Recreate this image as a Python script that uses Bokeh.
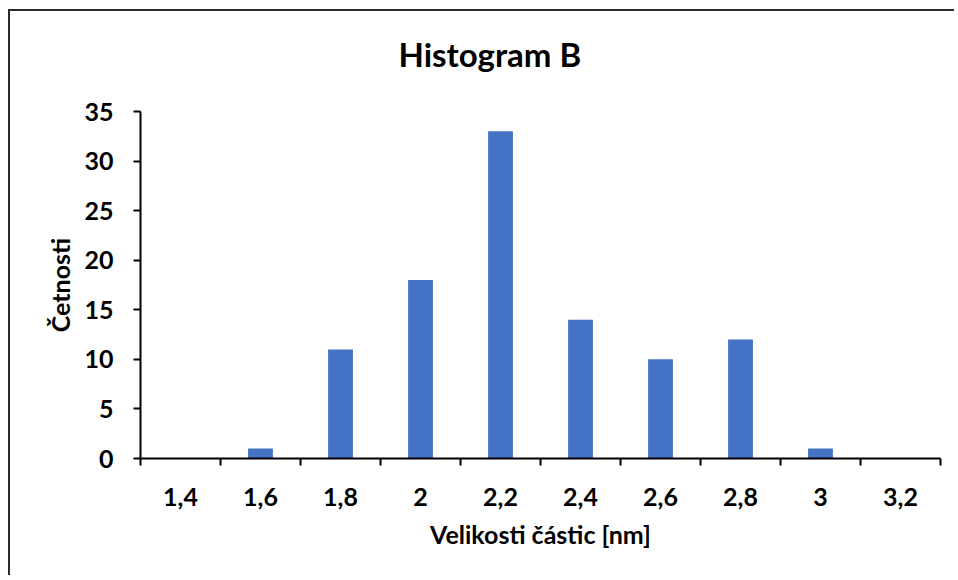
from bokeh.plotting import figure
from bokeh.models import Range1d, FixedTicker, LinearAxis
from bokeh.embed import file_html
from bokeh.resources import INLINE

# data
size_labels = ["1,4", "1,6", "1,8", "2", "2,2", "2,4", "2,6", "2,8", "3", "3,2"]
counts = [0, 1, 11, 18, 33, 14, 10, 12, 1, 0]
y_ticks = [0, 5, 10, 15, 20, 25, 30, 35]

FONT = "Lato"
n = len(size_labels)
centers = [i + 0.5 for i in range(n)]

p = figure(width=946, height=566, output_backend="svg", toolbar_location=None,
           x_range=Range1d(0, n), y_range=Range1d(0, 35),
           x_axis_location=None, y_axis_location=None,
           min_border_left=130, min_border_right=16, min_border_top=100, min_border_bottom=119,
           title="Histogram B")
p.styles = {"border-left": "2px solid #2b2b2b", "border-top": "2px solid #2b2b2b",
            "margin-left": "8px", "margin-top": "9px"}

p.title.text_font = FONT
p.title.text_font_size = "33px"
p.title.text_font_style = "bold"
p.title.align = "left"
p.title.offset = 258
p.title.text_color = "#000000"
p.title.vertical_align = "top"
p.title.padding = {"left": 0, "right": 0, "top": 0, "bottom": 16}
p.title.standoff = 40

p.outline_line_color = None
p.xgrid.grid_line_color = None
p.ygrid.grid_line_color = None

p.vbar(x=centers, top=counts, width=0.31, fill_color="#4472C4", line_color=None)

xaxis = LinearAxis(ticker=FixedTicker(ticks=centers, minor_ticks=list(range(n + 1))))
xaxis.major_label_overrides = {c: lab for c, lab in zip(centers, size_labels)}
xaxis.major_tick_out = 0
xaxis.major_tick_in = 0
xaxis.minor_tick_out = 7
xaxis.minor_tick_in = 0
xaxis.minor_tick_line_width = 2
xaxis.minor_tick_line_color = "#000000"
xaxis.axis_line_width = 2
xaxis.axis_line_color = "#000000"
xaxis.major_label_standoff = 22
xaxis.major_label_text_font = FONT
xaxis.major_label_text_font_style = "bold"
xaxis.major_label_text_font_size = "25px"
xaxis.major_label_text_color = "#000000"
xaxis.axis_label = "Velikosti částic [nm]"
xaxis.axis_label_text_font = FONT
xaxis.axis_label_text_font_style = "bold"
xaxis.axis_label_text_font_size = "25px"
xaxis.axis_label_text_color = "#000000"
xaxis.axis_label_standoff = 10
p.add_layout(xaxis, "below")

yaxis = LinearAxis(ticker=FixedTicker(ticks=y_ticks, minor_ticks=[]))
yaxis.major_tick_out = 7
yaxis.major_tick_in = 0
yaxis.major_tick_line_width = 2
yaxis.major_tick_line_color = "#000000"
yaxis.axis_line_width = 2
yaxis.axis_line_color = "#000000"
yaxis.major_label_standoff = 20
yaxis.major_label_text_font = FONT
yaxis.major_label_text_font_style = "bold"
yaxis.major_label_text_font_size = "25px"
yaxis.major_label_text_color = "#000000"
yaxis.axis_label = "Četnosti"
yaxis.axis_label_text_font = FONT
yaxis.axis_label_text_font_style = "bold"
yaxis.axis_label_text_font_size = "25px"
yaxis.axis_label_text_color = "#000000"
yaxis.axis_label_standoff = 6
p.add_layout(yaxis, "left")

open("out.html", "w").write(file_html(p, INLINE))
